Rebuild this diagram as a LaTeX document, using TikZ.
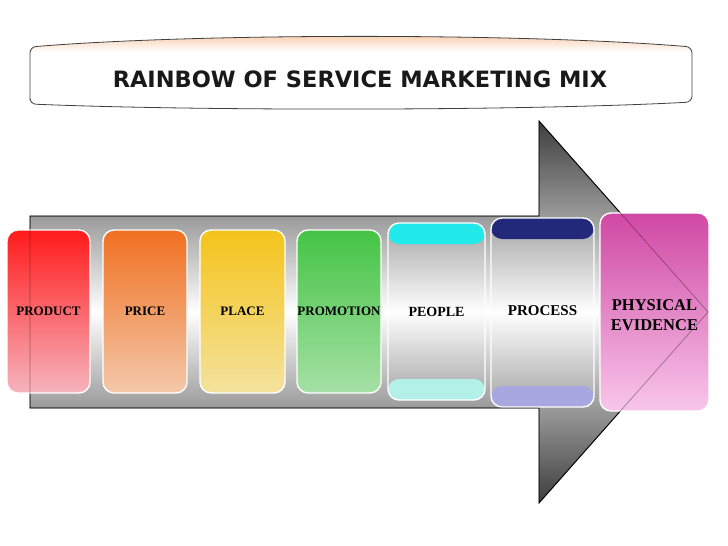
\documentclass[tikz,border=0pt]{standalone}
\usepackage{fontspec}
\setmainfont{Liberation Serif}
\newfontfamily\titlefont{DejaVu Sans}
\usepackage{tikz}

\definecolor{arrowdark}{HTML}{3E3E3E}
\definecolor{arrowmid}{HTML}{9A9A9A}
\definecolor{boxgray}{HTML}{A4A4A4}
\definecolor{peach}{HTML}{F9D2B6}
\definecolor{productTop}{HTML}{FF1A1A}
\definecolor{productBot}{HTML}{F6B4BE}
\definecolor{priceTop}{HTML}{F07020}
\definecolor{priceBot}{HTML}{F4C8AA}
\definecolor{placeTop}{HTML}{F4C41A}
\definecolor{placeBot}{HTML}{F4E29E}
\definecolor{promoTop}{HTML}{44C444}
\definecolor{promoBot}{HTML}{A6E0A6}
\definecolor{peopleTop}{HTML}{22EAEA}
\definecolor{peopleBot}{HTML}{B2F0E8}
\definecolor{processTop}{HTML}{22287A}
\definecolor{processBot}{HTML}{A8A8E0}
\definecolor{evidTop}{HTML}{D048A4}
\definecolor{evidBot}{HTML}{F8C6EA}

\pgfdeclareverticalshading{arrowshade}{100bp}{color(0bp)=(arrowdark); color(25bp)=(arrowdark); color(37.4bp)=(arrowmid); color(50bp)=(white); color(62.6bp)=(arrowmid); color(75bp)=(arrowdark); color(100bp)=(arrowdark)}
\pgfdeclareverticalshading{bannershade}{100bp}{color(0bp)=(white); color(63bp)=(white); color(73bp)=(peach); color(100bp)=(peach)}

\tikzset{
  mixbox/.style={rounded corners=11pt, draw=white, line width=1.4pt, inner sep=0pt,
    align=center, font=\bfseries\fontsize{13}{15}\selectfont},
  band/.style 2 args={path picture={
    \fill[#1] (path picture bounding box.north west) rectangle ([yshift=-21pt]path picture bounding box.north east);
    \fill[#2] (path picture bounding box.south west) rectangle ([yshift=21pt]path picture bounding box.south east);}},
}

\begin{document}
\begin{tikzpicture}[x=1pt, y=-1pt]
  \useasboundingbox (0,0) rectangle (728,546);

  % the big arrow
  \coordinate (a1) at (30,216);  \coordinate (a2) at (539,216);
  \coordinate (a3) at (539,121); \coordinate (tip) at (708,312);
  \coordinate (a4) at (539,503); \coordinate (a5) at (539,408);
  \coordinate (a6) at (30,408);
  \draw[black, line width=0.9pt, shading=arrowshade] (a1) -- (a2) -- (a3) -- (tip) -- (a4) -- (a5) -- (a6) -- cycle;

  % the seven Ps
  \node[mixbox, minimum width=83pt, minimum height=163pt, top color=productTop, bottom color=productBot] (product) at (48.5,311.5) {PRODUCT};
  \node[mixbox, minimum width=84pt, minimum height=163pt, top color=priceTop, bottom color=priceBot] (price) at (145,311.5) {PRICE};
  \node[mixbox, minimum width=85pt, minimum height=163pt, top color=placeTop, bottom color=placeBot] (place) at (242.5,311.5) {PLACE};
  \node[mixbox, minimum width=84pt, minimum height=163pt, top color=promoTop, bottom color=promoBot] (promotion) at (339,311.5) {PROMOTION};
  \node[mixbox, minimum width=97pt, minimum height=177pt, top color=boxgray, bottom color=boxgray, middle color=white,
        band={peopleTop}{peopleBot}, font=\bfseries\fontsize{14}{17}\selectfont] (people) at (436.5,311.5) {PEOPLE};
  \node[mixbox, minimum width=103pt, minimum height=189pt, top color=boxgray, bottom color=boxgray, middle color=white,
        band={processTop}{processBot}, font=\bfseries\fontsize{15}{18}\selectfont] (process) at (542.5,312.5) {\raisebox{3pt}{PROCESS}};
  \node[mixbox, minimum width=109pt, minimum height=198pt, top color=evidTop, bottom color=evidBot,
        font=\bfseries\fontsize{16.5}{20}\selectfont] (evidence) at (654.5,312) {\rule{0pt}{18pt}PHYSICAL\\EVIDENCE};

  % arrow edge seen through the boxes
  \draw[black, opacity=0.35, line width=0.7pt] (a1) -- (a2) -- (a3) -- (tip) -- (a4) -- (a5) -- (a6) -- cycle;

  % title banner
  \draw[black!75, line width=0.8pt, rounded corners=6pt, shading=bannershade]
    (30,104) -- (30,47) .. controls (200,33) and (522,33) .. (692,47) -- (692,102) .. controls (522,111) and (200,111) .. (30,104) -- cycle;
  \node[font=\titlefont\bfseries\fontsize{22.5}{26}\selectfont, text=black!90] (title) at (360,79) {RAINBOW OF SERVICE MARKETING MIX};
\end{tikzpicture}
\end{document}
